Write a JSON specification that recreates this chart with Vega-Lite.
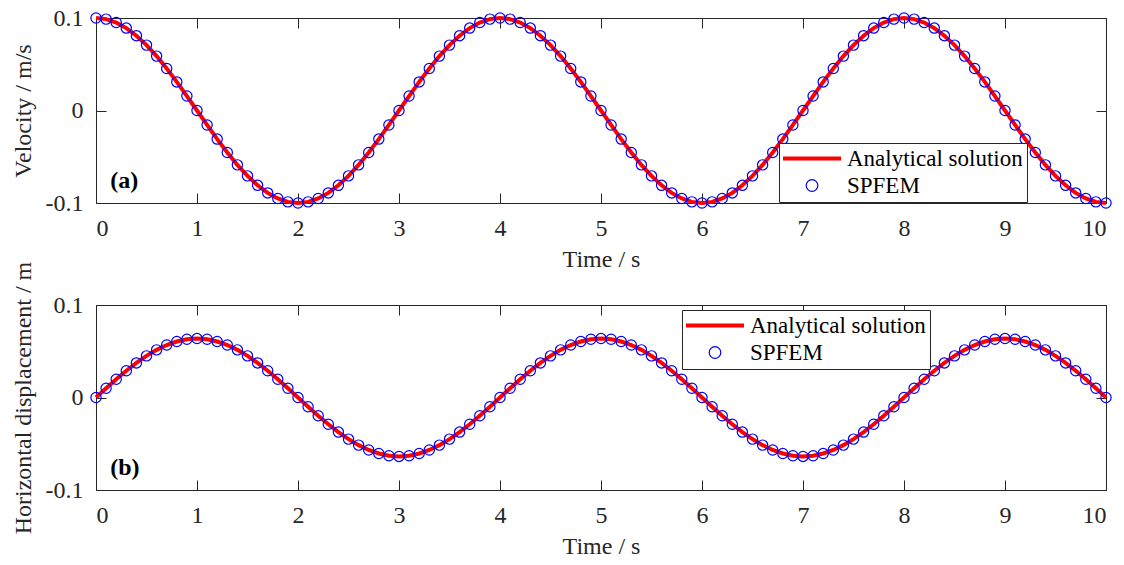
{
  "$schema": "https://vega.github.io/schema/vega-lite/v6.json",
  "padding": {"left": 10, "top": 5, "right": 5, "bottom": 5},
  "background": "white",
  "config": {
    "font": "Liberation Serif",
    "view": {"stroke": "#262626", "strokeWidth": 1},
    "axis": {
      "domain": false, "grid": false, "tickSize": -10, "tickColor": "#262626", "tickWidth": 1,
      "labelFont": "Liberation Serif", "labelFontSize": 24, "labelColor": "#262626",
      "titleFont": "Liberation Serif", "titleFontSize": 24, "titleFontWeight": "normal", "titleColor": "#262626"
    },
    "legend": {
      "orient": "none", "title": null, "symbolType": "M-1,0H1", "symbolSize": 3364, "symbolStrokeWidth": 4,
      "labelFont": "Liberation Serif", "labelFontSize": 23, "labelColor": "#000000",
      "strokeColor": "#262626", "fillColor": "white", "padding": 4, "rowPadding": 3,
      "symbolOffset": 17.5, "labelOffset": 23.5, "labelLimit": 400
    }
  },
  "datasets": {
    "s": [
      {"t":0,"v":0.1,"d":0},{"t":0.1,"v":0.0988,"d":0.01},{"t":0.2,"v":0.0951,"d":0.0197},{"t":0.3,"v":0.0891,"d":0.0289},{"t":0.4,"v":0.0809,"d":0.0374},{"t":0.5,"v":0.0707,"d":0.045},{"t":0.6,"v":0.0588,"d":0.0515},{"t":0.7,"v":0.0454,"d":0.0567},{"t":0.8,"v":0.0309,"d":0.0605},{"t":0.9,"v":0.0156,"d":0.0629},
      {"t":1,"v":0,"d":0.0637},{"t":1.1,"v":-0.0156,"d":0.0629},{"t":1.2,"v":-0.0309,"d":0.0605},{"t":1.3,"v":-0.0454,"d":0.0567},{"t":1.4,"v":-0.0588,"d":0.0515},{"t":1.5,"v":-0.0707,"d":0.045},{"t":1.6,"v":-0.0809,"d":0.0374},{"t":1.7,"v":-0.0891,"d":0.0289},{"t":1.8,"v":-0.0951,"d":0.0197},{"t":1.9,"v":-0.0988,"d":0.01},
      {"t":2,"v":-0.1,"d":0},{"t":2.1,"v":-0.0988,"d":-0.01},{"t":2.2,"v":-0.0951,"d":-0.0197},{"t":2.3,"v":-0.0891,"d":-0.0289},{"t":2.4,"v":-0.0809,"d":-0.0374},{"t":2.5,"v":-0.0707,"d":-0.045},{"t":2.6,"v":-0.0588,"d":-0.0515},{"t":2.7,"v":-0.0454,"d":-0.0567},{"t":2.8,"v":-0.0309,"d":-0.0605},{"t":2.9,"v":-0.0156,"d":-0.0629},
      {"t":3,"v":0,"d":-0.0637},{"t":3.1,"v":0.0156,"d":-0.0629},{"t":3.2,"v":0.0309,"d":-0.0605},{"t":3.3,"v":0.0454,"d":-0.0567},{"t":3.4,"v":0.0588,"d":-0.0515},{"t":3.5,"v":0.0707,"d":-0.045},{"t":3.6,"v":0.0809,"d":-0.0374},{"t":3.7,"v":0.0891,"d":-0.0289},{"t":3.8,"v":0.0951,"d":-0.0197},{"t":3.9,"v":0.0988,"d":-0.01},
      {"t":4,"v":0.1,"d":0},{"t":4.1,"v":0.0988,"d":0.01},{"t":4.2,"v":0.0951,"d":0.0197},{"t":4.3,"v":0.0891,"d":0.0289},{"t":4.4,"v":0.0809,"d":0.0374},{"t":4.5,"v":0.0707,"d":0.045},{"t":4.6,"v":0.0588,"d":0.0515},{"t":4.7,"v":0.0454,"d":0.0567},{"t":4.8,"v":0.0309,"d":0.0605},{"t":4.9,"v":0.0156,"d":0.0629},
      {"t":5,"v":0,"d":0.0637},{"t":5.1,"v":-0.0156,"d":0.0629},{"t":5.2,"v":-0.0309,"d":0.0605},{"t":5.3,"v":-0.0454,"d":0.0567},{"t":5.4,"v":-0.0588,"d":0.0515},{"t":5.5,"v":-0.0707,"d":0.045},{"t":5.6,"v":-0.0809,"d":0.0374},{"t":5.7,"v":-0.0891,"d":0.0289},{"t":5.8,"v":-0.0951,"d":0.0197},{"t":5.9,"v":-0.0988,"d":0.01},
      {"t":6,"v":-0.1,"d":0},{"t":6.1,"v":-0.0988,"d":-0.01},{"t":6.2,"v":-0.0951,"d":-0.0197},{"t":6.3,"v":-0.0891,"d":-0.0289},{"t":6.4,"v":-0.0809,"d":-0.0374},{"t":6.5,"v":-0.0707,"d":-0.045},{"t":6.6,"v":-0.0588,"d":-0.0515},{"t":6.7,"v":-0.0454,"d":-0.0567},{"t":6.8,"v":-0.0309,"d":-0.0605},{"t":6.9,"v":-0.0156,"d":-0.0629},
      {"t":7,"v":0,"d":-0.0637},{"t":7.1,"v":0.0156,"d":-0.0629},{"t":7.2,"v":0.0309,"d":-0.0605},{"t":7.3,"v":0.0454,"d":-0.0567},{"t":7.4,"v":0.0588,"d":-0.0515},{"t":7.5,"v":0.0707,"d":-0.045},{"t":7.6,"v":0.0809,"d":-0.0374},{"t":7.7,"v":0.0891,"d":-0.0289},{"t":7.8,"v":0.0951,"d":-0.0197},{"t":7.9,"v":0.0988,"d":-0.01},
      {"t":8,"v":0.1,"d":0},{"t":8.1,"v":0.0988,"d":0.01},{"t":8.2,"v":0.0951,"d":0.0197},{"t":8.3,"v":0.0891,"d":0.0289},{"t":8.4,"v":0.0809,"d":0.0374},{"t":8.5,"v":0.0707,"d":0.045},{"t":8.6,"v":0.0588,"d":0.0515},{"t":8.7,"v":0.0454,"d":0.0567},{"t":8.8,"v":0.0309,"d":0.0605},{"t":8.9,"v":0.0156,"d":0.0629},
      {"t":9,"v":0,"d":0.0637},{"t":9.1,"v":-0.0156,"d":0.0629},{"t":9.2,"v":-0.0309,"d":0.0605},{"t":9.3,"v":-0.0454,"d":0.0567},{"t":9.4,"v":-0.0588,"d":0.0515},{"t":9.5,"v":-0.0707,"d":0.045},{"t":9.6,"v":-0.0809,"d":0.0374},{"t":9.7,"v":-0.0891,"d":0.0289},{"t":9.8,"v":-0.0951,"d":0.0197},{"t":9.9,"v":-0.0988,"d":0.01},
      {"t":10,"v":-0.1,"d":0}
    ]
  },
  "bounds": "flush",
  "spacing": 102,
  "resolve": {"scale": {"color": "independent"}, "legend": {"color": "independent"}},
  "vconcat": [
    {
      "width": 1010, "height": 185,
      "layer": [
        {
          "data": {"name": "s"},
          "mark": {"type": "line", "strokeWidth": 4},
          "encoding": {
            "x": {"field": "t", "type": "quantitative", "scale": {"domain": [0, 10], "nice": false},
                  "axis": {"orient": "bottom", "values": [0,1,2,3,4,5,6,7,8,9,10], "title": "Time / s", "labelPadding": 23, "titlePadding": 7}},
            "y": {"field": "v", "type": "quantitative", "scale": {"domain": [-0.1, 0.1], "nice": false},
                  "axis": {"orient": "left", "values": [-0.1, 0, 0.1], "labelExpr": "datum.value > 0.05 ? '0.1' : (datum.value < -0.05 ? '-0.1' : '0')", "title": "Velocity / m/s", "labelPadding": 23, "titlePadding": 10}},
            "color": {"datum": "Analytical solution", "type": "nominal",
                      "scale": {"domain": ["Analytical solution", "SPFEM"], "range": ["#ff0000", "#0000ff"]},
                      "legend": {"legendX": 683, "legendY": 125, "symbolSize": 3364, "symbolType": "M-1,0H1", "symbolStrokeWidth": 4,
                        "encode": {"symbols": {"update": {
                          "shape": {"signal": "datum.value === 'SPFEM' ? 'M-0.2,0A0.2,0.2 0 1,0 0.2,0A0.2,0.2 0 1,0 -0.2,0' : 'M-1,0H1'"},
                          "strokeWidth": {"signal": "datum.value === 'SPFEM' ? 1.2 : 4"},
                          "stroke": {"signal": "datum.value === 'SPFEM' ? '#0000ff' : '#ff0000'"},
                          "fill": {"value": "transparent"}}}}}}
          }
        },
        {
          "data": {"name": "s"},
          "mark": {"type": "point", "filled": false, "size": 105, "strokeWidth": 1.2, "opacity": 1},
          "encoding": {
            "x": {"field": "t", "type": "quantitative", "axis": {"orient": "top", "values": [0,1,2,3,4,5,6,7,8,9,10], "labels": false, "title": null}},
            "y": {"field": "v", "type": "quantitative", "axis": {"orient": "right", "values": [-0.1, 0, 0.1], "labels": false, "title": null}},
            "color": {"datum": "SPFEM", "type": "nominal"}
          }
        },
        {
          "data": {"values": [{"label": "(a)"}]},
          "mark": {"type": "text", "font": "Liberation Serif", "fontSize": 24, "fontWeight": "bold", "align": "left", "baseline": "middle", "color": "#000000"},
          "encoding": {
            "text": {"field": "label"},
            "x": {"datum": 0.14, "type": "quantitative", "axis": null},
            "y": {"datum": -0.076, "type": "quantitative", "axis": null}
          }
        }
      ],
      "resolve": {"axis": {"x": "independent", "y": "independent"}}
    },
    {
      "width": 1010, "height": 185,
      "layer": [
        {
          "data": {"name": "s"},
          "mark": {"type": "line", "strokeWidth": 4},
          "encoding": {
            "x": {"field": "t", "type": "quantitative", "scale": {"domain": [0, 10], "nice": false},
                  "axis": {"orient": "bottom", "values": [0,1,2,3,4,5,6,7,8,9,10], "title": "Time / s", "labelPadding": 23, "titlePadding": 7}},
            "y": {"field": "d", "type": "quantitative", "scale": {"domain": [-0.1, 0.1], "nice": false},
                  "axis": {"orient": "left", "values": [-0.1, 0, 0.1], "labelExpr": "datum.value > 0.05 ? '0.1' : (datum.value < -0.05 ? '-0.1' : '0')", "title": "Horizontal displacement / m", "labelPadding": 23, "titlePadding": 10}},
            "color": {"datum": "Analytical solution", "type": "nominal",
                      "scale": {"domain": ["Analytical solution", "SPFEM"], "range": ["#ff0000", "#0000ff"]},
                      "legend": {"legendX": 586, "legendY": 5, "symbolSize": 3364, "symbolType": "M-1,0H1", "symbolStrokeWidth": 4,
                        "encode": {"symbols": {"update": {
                          "shape": {"signal": "datum.value === 'SPFEM' ? 'M-0.2,0A0.2,0.2 0 1,0 0.2,0A0.2,0.2 0 1,0 -0.2,0' : 'M-1,0H1'"},
                          "strokeWidth": {"signal": "datum.value === 'SPFEM' ? 1.2 : 4"},
                          "stroke": {"signal": "datum.value === 'SPFEM' ? '#0000ff' : '#ff0000'"},
                          "fill": {"value": "transparent"}}}}}}
          }
        },
        {
          "data": {"name": "s"},
          "mark": {"type": "point", "filled": false, "size": 105, "strokeWidth": 1.2, "opacity": 1},
          "encoding": {
            "x": {"field": "t", "type": "quantitative", "axis": {"orient": "top", "values": [0,1,2,3,4,5,6,7,8,9,10], "labels": false, "title": null}},
            "y": {"field": "d", "type": "quantitative", "axis": {"orient": "right", "values": [-0.1, 0, 0.1], "labels": false, "title": null}},
            "color": {"datum": "SPFEM", "type": "nominal"}
          }
        },
        {
          "data": {"values": [{"label": "(b)"}]},
          "mark": {"type": "text", "font": "Liberation Serif", "fontSize": 24, "fontWeight": "bold", "align": "left", "baseline": "middle", "color": "#000000"},
          "encoding": {
            "text": {"field": "label"},
            "x": {"datum": 0.14, "type": "quantitative", "axis": null},
            "y": {"datum": -0.076, "type": "quantitative", "axis": null}
          }
        }
      ],
      "resolve": {"axis": {"x": "independent", "y": "independent"}}
    }
  ]
}
